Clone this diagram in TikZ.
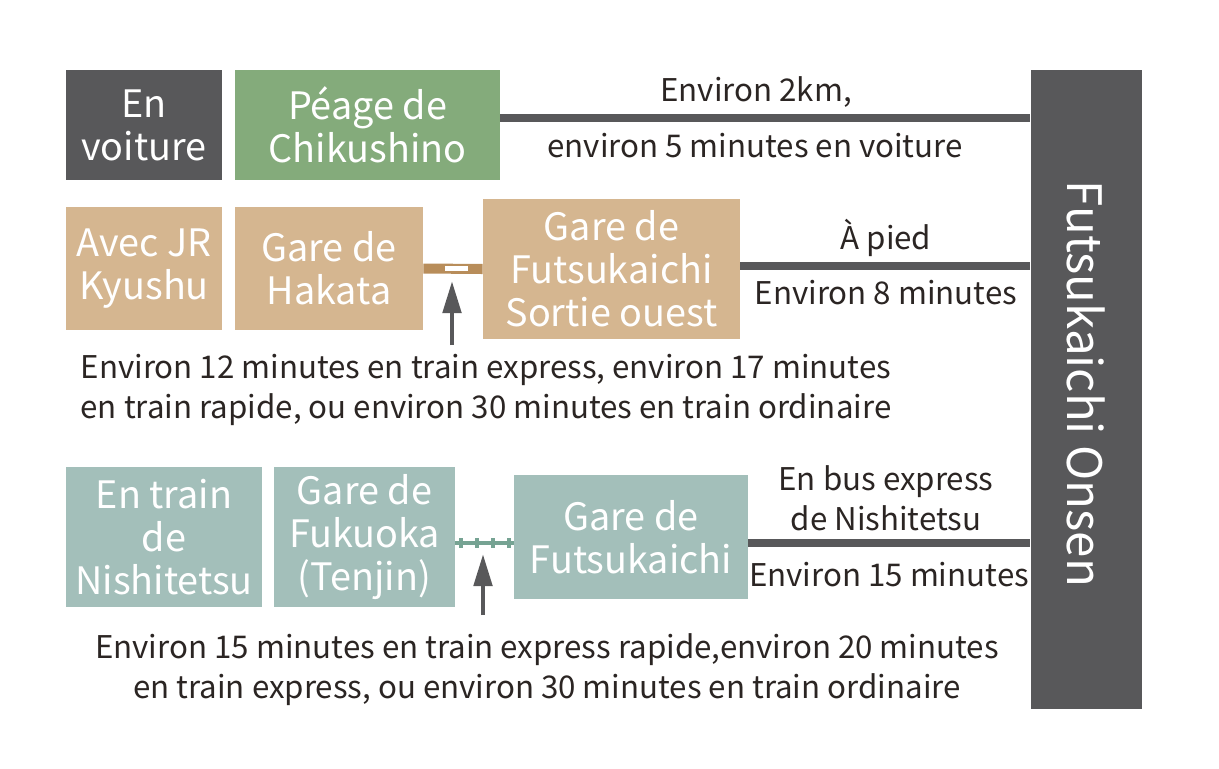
\documentclass[tikz,border=0pt]{standalone}
\usepackage{fontspec}
\setmainfont{Noto Sans CJK JP}
\usetikzlibrary{arrows.meta}
\definecolor{boxgray}{HTML}{58585A}
\definecolor{boxgreen}{HTML}{84AB7B}
\definecolor{boxtan}{HTML}{D5B690}
\definecolor{railtan}{HTML}{B88D5A}
\definecolor{boxteal}{HTML}{A3BFBA}
\definecolor{railteal}{HTML}{76A393}
\definecolor{ink}{HTML}{2B2523}
\tikzset{
 box/.style={inner sep=0pt,align=center,text=white,font=\fontsize{21.5}{24.5}\selectfont},
 note/.style={inner sep=0pt,align=center,text=ink,font=\fontsize{17.8}{22.8}\selectfont},
 road/.style={boxgray,line width=4.5pt},
 uparrow/.style={boxgray,line width=2.8pt,-{Triangle[length=0.64cm,width=0.36cm]}}
}
\begin{document}
\begin{tikzpicture}[x=0.02cm,y=-0.02cm]
 \useasboundingbox (0,0) rectangle (1219,768);
 \node[box,fill=boxgray,minimum width=111*0.02cm,minimum height=639*0.02cm] (onsen) at (1086,389.5) {};
 \node[box,rotate=-90,font=\fontsize{27}{30}\selectfont] (onsenlabel) at (1086,384) {Futsukaichi Onsen};
 % en voiture
 \node[box,fill=boxgray,minimum width=156*0.02cm,minimum height=110*0.02cm] (car) at (144,125) {En\\voiture};
 \node[box,fill=boxgreen,minimum width=265*0.02cm,minimum height=110*0.02cm] (peage) at (367.5,125) {Péage de\\Chikushino};
 \coordinate (carline) at (0,118);
 \draw[road] (peage.east |- carline) -- (onsen.west |- carline);
 \node[note] (cartop) at (756,92) {Environ 2km,};
 \node[note] (carbot) at (755,146) {environ 5 minutes en voiture};
 % JR
 \node[box,fill=boxtan,minimum width=156*0.02cm,minimum height=123*0.02cm] (jr) at (144,268.5) {Avec JR\\Kyushu};
 \node[box,fill=boxtan,minimum width=188*0.02cm,minimum height=123*0.02cm] (hakata) at (329,268.5) {Gare de\\Hakata};
 \node[box,fill=boxtan,minimum width=257*0.02cm,minimum height=140*0.02cm] (ouest) at (611.5,269) {Gare de\\Futsukaichi\\Sortie ouest};
 \draw[railtan,line width=5.7pt] (hakata.east) -- (ouest.west);
 \fill[white] (445,265.5) rectangle (468,270.5);
 \coordinate (jrfoot) at (452,345);
 \draw[uparrow] (jrfoot) -- (452,281);
 \coordinate (jrline) at (0,266);
 \draw[road] (ouest.east |- jrline) -- (onsen.west |- jrline);
 \node[note] (jrtop) at (886,238) {À pied};
 \node[note] (jrbot) at (886,293) {Environ 8 minutes};
 \node[note] (jrnote) at (486,390) {Environ 12 minutes en train express, environ 17 minutes\\en train rapide, ou environ 30 minutes en train ordinaire};
 % Nishitetsu
 \node[box,fill=boxteal,minimum width=196*0.02cm,minimum height=140*0.02cm] (nishi) at (164,537) {En train\\de\\Nishitetsu};
 \node[box,fill=boxteal,minimum width=181*0.02cm,minimum height=140*0.02cm] (tenjin) at (364.5,537) {Gare de\\Fukuoka\\(Tenjin)};
 \node[box,fill=boxteal,minimum width=234*0.02cm,minimum height=124*0.02cm] (gare) at (631,537) {Gare de\\Futsukaichi};
 \coordinate (nishiline) at (0,543);
 \draw[railteal,line width=2.3pt] (tenjin.east |- nishiline) -- (gare.west |- nishiline);
 \foreach \x in {461,477,493,509}
  \fill[railteal] (\x-2,538) rectangle (\x+2,548);
 \coordinate (nishifoot) at (483,615);
 \draw[uparrow] (nishifoot) -- (483,554);
 \draw[road] (gare.east |- nishiline) -- (onsen.west |- nishiline);
 \node[note] (bustop) at (886,498) {En bus express\\de Nishitetsu};
 \node[note] (busbot) at (889,575) {Environ 15 minutes};
 \node[note] (nishinote) at (547,670) {Environ 15 minutes en train express rapide,environ 20 minutes\\en train express, ou environ 30 minutes en train ordinaire};
\end{tikzpicture}
\end{document}
